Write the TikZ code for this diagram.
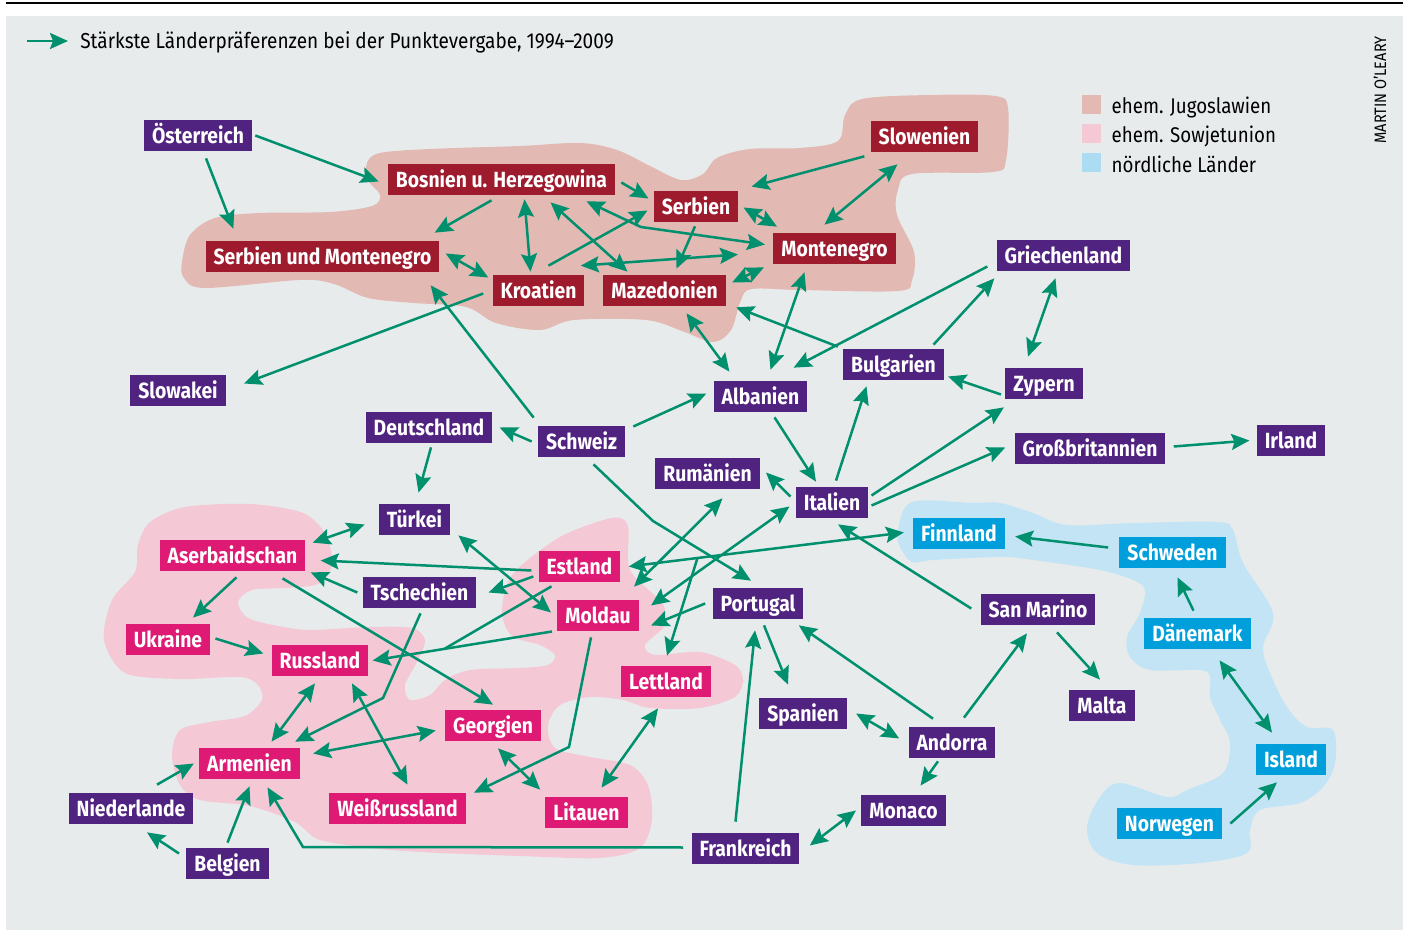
\documentclass[tikz,border=0pt]{standalone}
\usepackage{fontspec}
\setmainfont{Fira Sans}[FakeStretch=0.88]
\usetikzlibrary{arrows.meta, calc, positioning}

\definecolor{panelgray}{HTML}{E7EBEC}
\definecolor{arrowgreen}{HTML}{00906D}
\definecolor{landpurple}{HTML}{512380}
\definecolor{yugored}{HTML}{9E1B2E}
\definecolor{sovietpink}{HTML}{DE1A74}
\definecolor{nordicblue}{HTML}{009FDB}
\definecolor{yugoblob}{HTML}{E2B9B3}
\definecolor{sovietblob}{HTML}{F5C8D6}
\definecolor{nordicblob}{HTML}{C3E4F5}
\definecolor{nordicsquare}{HTML}{ABDCF2}

\newcommand{\landfont}{\fontsize{12.5}{14}\selectfont\bfseries}
\newcommand{\titlefont}{\fontsize{12.3}{14}\selectfont}
\newcommand{\legendfont}{\fontsize{12.1}{14}\selectfont}
\newcommand{\creditfont}{\fontsize{9.4}{11}\selectfont}

\begin{document}
\begin{tikzpicture}[
  x=0.2mm, y=-0.2mm,
  >={Stealth[length=3.6mm, width=3.2mm, inset=0.6mm]},
  country/.style={fill=landpurple, text=white, font=\landfont,
                  inner xsep=1.6mm, inner ysep=0pt, minimum height=6.2mm,
                  text height=11pt, text depth=2.4pt},
  yugo/.style={country, fill=yugored},
  soviet/.style={country, fill=sovietpink},
  nordic/.style={country, fill=nordicblue},
  link/.style={line width=0.5mm, draw=arrowgreen},
  arr/.style={link, ->},
  dbl/.style={link, <->},
  legbox/.style={minimum size=3.8mm, inner sep=0pt},
  legtext/.style={font=\legendfont, inner sep=0pt, anchor=west},
]
\useasboundingbox (0,0) rectangle (1403,937);

%% ---- panel and rule ----
\fill[panelgray] (6,16) rectangle (1403,930);
\draw[line width=0.3mm] (6,3) -- (1403,3);

%% ---- regions ----
\fill[yugoblob] plot[smooth cycle, tension=0.55] coordinates {
  (182,262) (190,235) (215,218) (260,213) (330,212) (372,206) (380,195)
  (368,180) (367,163) (380,153) (430,149) (520,146) (580,143) (617,150)
  (650,166) (681,180) (703,174) (717,158) (750,149) (800,148) (838,141)
  (845,115) (862,99) (930,95) (995,96) (1008,108) (1006,160) (993,172)
  (912,174) (898,190) (897,215) (914,252) (912,280) (898,291) (800,290)
  (752,289) (741,300) (731,330) (713,342) (682,331) (646,320) (574,320)
  (540,330) (496,323) (466,307) (414,303) (368,298) (334,284) (300,280)
  (205,288) (184,278)};

\fill[sovietblob] plot[smooth cycle, tension=0.5] coordinates {
  (138,545) (150,522) (185,507) (250,504) (303,513) (326,535) (332,565)
  (318,584) (285,588) (252,590) (238,602) (248,618) (278,626) (310,630)
  (370,627) (412,628) (425,640) (418,660) (405,685) (410,700) (430,695)
  (445,680) (470,670) (520,668) (548,665) (555,655) (540,645) (512,636)
  (502,612) (512,575) (560,537) (612,518) (628,526) (630,570) (662,603)
  (665,625) (645,645) (655,655) (700,652) (735,665) (743,680) (735,697)
  (700,708) (650,708) (623,700) (590,697) (560,705) (548,725) (555,748)
  (590,757) (630,765) (648,785) (652,820) (640,848) (600,858) (520,856)
  (440,853) (380,849) (320,840) (295,822) (250,806) (200,800) (180,785)
  (172,755) (180,730) (210,722) (245,716) (262,700) (258,685) (240,677)
  (180,679) (125,673) (104,640) (112,600) (135,572)};

\fill[nordicblob] plot[smooth cycle, tension=0.55] coordinates {
  (898,530) (912,502) (973,503) (1000,503) (1033,513) (1067,525)
  (1133,523) (1217,522) (1233,530) (1243,563) (1273,613) (1263,647)
  (1270,673) (1287,707) (1307,727) (1333,730) (1335,763) (1323,787)
  (1300,803) (1260,810) (1250,830) (1247,853) (1200,863) (1133,865)
  (1097,853) (1087,827) (1100,797) (1120,783) (1167,797) (1187,790)
  (1223,773) (1230,743) (1220,720) (1210,697) (1210,677) (1200,670)
  (1150,670) (1130,657) (1127,637) (1140,613) (1145,590) (1133,580)
  (1100,570) (1033,560) (1000,557) (933,560) (912,562) (900,547)};

%% ---- title, legend, credit ----
\node[legtext, font=\titlefont] (titel) at (80,42)
  {Stärkste Länderpräferenzen bei der Punktevergabe, 1994–2009};
\coordinate (titelpfeil) at (27,41);
\draw[arr] (titelpfeil) -- ($(titel.west)+(-12,-1)$);

\node[legbox, fill=yugoblob] (legYugo) at (1091.5,104.5) {};
\node[legbox, fill=sovietblob] (legSoviet) at (1091.5,133.5) {};
\node[legbox, fill=nordicsquare] (legNordic) at (1091.5,163) {};
\node[legtext, right=2mm of legYugo, yshift=-0.6mm] (txtYugo) {ehem. Jugoslawien};
\node[legtext, right=2mm of legSoviet, yshift=-0.6mm] (txtSoviet) {ehem. Sowjetunion};
\node[legtext, right=2mm of legNordic, yshift=-0.3mm] (txtNordic) {nördliche Länder};

\node[rotate=90, font=\creditfont, inner sep=0pt] (credit) at (1380,90) {MARTIN O'LEARY};

%% ---- countries ----
\node[country] (oest) at (198,135.5) {Österreich};
\node[yugo] (bosn) at (501.5,179.5) {Bosnien u. Herzegowina};
\node[yugo] (serb) at (696,206.5) {Serbien};
\node[yugo] (mont) at (834.5,248.5) {Montenegro};
\node[yugo] (kroa) at (538.5,290.5) {Kroatien};
\node[yugo] (maze) at (664.5,290.5) {Mazedonien};
\node[yugo] (slow) at (924.5,136.5) {Slowenien};
\node[yugo] (sumo) at (322.5,256.5) {Serbien und Montenegro};
\node[country] (alba) at (760.5,396.5) {Albanien};
\node[country] (bulg) at (893.5,364.5) {Bulgarien};
\node[country] (grie) at (1063.5,255.5) {Griechenland};
\node[country] (zype) at (1044,383.5) {Zypern};
\node[country] (slwk) at (178,390.5) {Slowakei};
\node[country] (deut) at (429,427.5) {Deutschland};
\node[country] (schz) at (581.5,441.5) {Schweiz};
\node[country] (tuer) at (414.5,519.5) {Türkei};
\node[soviet] (aser) at (232.5,555.5) {Aserbaidschan};
\node[soviet] (estl) at (579.5,566.5) {Estland};
\node[country] (tsch) at (419.5,592.5) {Tschechien};
\node[soviet] (mold) at (598,615.5) {Moldau};
\node[soviet] (ukra) at (168,639.5) {Ukraine};
\node[soviet] (russ) at (320,660.5) {Russland};
\node[soviet] (lett) at (666,681.5) {Lettland};
\node[soviet] (geor) at (493,725.5) {Georgien};
\node[soviet] (arme) at (249.5,763.5) {Armenien};
\node[country] (nied) at (131,808.5) {Niederlande};
\node[soviet] (weis) at (397.5,808.5) {Weißrussland};
\node[country] (belg) at (227.5,863.5) {Belgien};
\node[country] (port) at (758,603.5) {Portugal};
\node[country] (span) at (803,713.5) {Spanien};
\node[country] (ando) at (952,742.5) {Andorra};
\node[soviet] (lita) at (586.5,812.5) {Litauen};
\node[country] (mona) at (903.5,810.5) {Monaco};
\node[country] (fran) at (745.5,848.5) {Frankreich};
\node[country] (rumae) at (707.5,473.5) {Rumänien};
\node[country] (ital) at (832,502.5) {Italien};
\node[country] (gbri) at (1090,448.5) {Großbritannien};
\node[country] (irla) at (1291,440.5) {Irland};
\node[nordic] (finn) at (959,533.5) {Finnland};
\node[country] (sanm) at (1038,609.5) {San Marino};
\node[nordic] (schw) at (1172.5,552.5) {Schweden};
\node[nordic] (daen) at (1197.5,633.5) {Dänemark};
\node[country] (malt) at (1102,705.5) {Malta};
\node[nordic] (isla) at (1291,759.5) {Island};
\node[nordic] (norw) at (1169.5,823.5) {Norwegen};

%% ---- bends ----
\coordinate (bendBM) at (641,227);
\coordinate (bendSP) at (653,521);
\coordinate (bendTA) at (383,698);
\coordinate (bendMW) at (569,747);
\coordinate (bendFA) at (303,847);

%% ---- ex-Yugoslavia ----
\draw[arr] ($(oest.east)+(3,0)$) -- ($(bosn.west)+(-9,2)$);
\draw[arr] ($(oest.south)+(8,7)$) -- ($(sumo.north west)+(28,-12)$);
\draw[arr] ($(bosn.south)+(-10,5)$) -- ($(sumo.north east)+(-5,-8)$);
\draw[arr] ($(bosn.east)+(6,3)$) -- ($(serb.west)+(-5,-8)$);
\draw[dbl] ($(bosn.south)+(23,4)$) -- ($(kroa.north)+(-8,-3)$);
\draw[dbl] ($(sumo.east)+(6,-3)$) -- ($(kroa.west)+(-4,-13)$);
\draw[arr] ($(kroa.north)+(10,-9)$) -- ($(serb.west)+(-6,4)$);
\draw[dbl] ($(bosn.south)+(49,7)$) -- ($(maze.north)+(-37,-3)$);
\draw[dbl] ($(bosn.south)+(85,6)$) -- (bendBM) -- ($(mont.west)+(-8,-4)$);
\draw[dbl] ($(kroa.north east)+(-4,-9)$) -- ($(mont.west)+(-35,6)$);
\draw[dbl] ($(maze.east)+(6,-8)$) -- ($(mont.south west)+(-9,3)$);
\draw[dbl] ($(serb.east)+(5,1)$) -- ($(mont.north west)+(4,-6)$);
\draw[arr] ($(serb.south)+(-1,4)$) -- ($(maze.north)+(12,-6)$);
\draw[arr] ($(slow.south west)+(-6,4)$) -- ($(serb.north east)+(13,-4)$);
\draw[dbl] ($(slow.south)+(-27,12)$) -- ($(mont.north)+(-10,-8)$);
\draw[arr] ($(kroa.west)+(-9,3)$) -- ($(slwk.east)+(18,-7)$);
\draw[arr] ($(schz.north west)+(-4,-8)$) -- ($(sumo.south east)+(-9,13)$);
\draw[dbl] ($(maze.south)+(22,7)$) -- ($(alba.north west)+(16,-9)$);
\draw[dbl] ($(mont.south)+(-30,8)$) -- ($(alba.north)+(10,-11)$);
\draw[arr] ($(bulg.north west)+(-5,-2)$) -- ($(maze.south east)+(10,1)$);

%% ---- south and west ----
\draw[arr] ($(grie.west)+(-9,11)$) -- ($(alba.north east)+(-14,-13)$);
\draw[arr] ($(bulg.north)+(40,-4)$) -- ($(grie.south west)+(-2,7)$);
\draw[dbl] ($(grie.south)+(-8,7)$) -- ($(zype.north)+(-16,-11)$);
\draw[arr] ($(zype.west)+(-4,11)$) -- ($(bulg.east)+(4,12)$);
\draw[arr] ($(ital.east)+(3,-7)$) -- ($(zype.south west)+(-1,8)$);
\draw[arr] ($(ital.east)+(3,3)$) -- ($(gbri.west)+(-9,-1)$);
\draw[arr] ($(ital.north)+(4,-6)$) -- ($(bulg.south)+(-27,6)$);
\draw[arr] ($(alba.south)+(14,5)$) -- ($(ital.north)+(-16,-5)$);
\draw[arr] ($(ital.west)+(-5,-6)$) -- ($(rumae.east)+(6,-1)$);
\draw[arr] ($(schz.east)+(8,-15)$) -- ($(alba.west)+(-7,-3)$);
\draw[arr] ($(schz.south)+(12,7)$) -- (bendSP) -- ($(port.north)+(-7,-7)$);
\draw[arr] ($(schz.west)+(-6,0)$) -- ($(deut.east)+(7,0)$);
\draw[arr] ($(deut.south)+(2,4)$) -- ($(tuer.north)+(4,-11)$);
\draw[arr] ($(sanm.west)+(-9,-1)$) -- ($(ital.south)+(6,6)$);
\draw[arr] ($(gbri.east)+(8,-2)$) -- ($(irla.west)+(-7,0)$);
\draw[arr] ($(nied.north)+(26,-8)$) -- ($(arme.west)+(-5,0)$);
\draw[arr] ($(belg.west)+(-7,-10)$) -- ($(nied.south)+(16,8)$);
\draw[arr] ($(belg.north)+(0,-5)$) -- ($(arme.south)+(0,7)$);
\draw[arr] ($(fran.west)+(-8,-1)$) -- (bendFA) -- ($(arme.south)+(18,8)$);
\draw[arr] ($(fran.north)+(-10,-11)$) -- ($(port.south)+(-3,11)$);
\draw[arr] ($(port.south)+(6,6)$) -- ($(span.north)+(-15,-13)$);
\draw[arr] ($(ando.north)+(-19,-8)$) -- ($(port.south east)+(-5,6)$);
\draw[dbl] ($(span.east)+(9,0)$) -- ($(ando.west)+(-9,-4)$);
\draw[arr] ($(ando.south)+(-14,3)$) -- ($(mona.north)+(17,-9)$);
\draw[dbl] ($(fran.east)+(10,-3)$) -- ($(mona.west)+(-5,0)$);
\draw[arr] ($(ando.north)+(12,-9)$) -- ($(sanm.south)+(-11,8)$);
\draw[arr] ($(sanm.south)+(19,7)$) -- ($(malt.north)+(-2,-10)$);

%% ---- north ----
\draw[dbl] ($(finn.west)+(-9,-1)$) -- coordinate[pos=0.75] (forkFL) ($(estl.east)+(8,0)$);
\draw[arr] (forkFL) -- ($(lett.north)+(1,-10)$);
\draw[arr] ($(schw.west)+(-11,-5)$) -- ($(finn.east)+(10,3)$);
\draw[arr] ($(daen.north)+(-4,-7)$) -- ($(schw.south)+(5,9)$);
\draw[dbl] ($(daen.south)+(22,11)$) -- ($(isla.north)+(-19,-11)$);
\draw[arr] ($(norw.east)+(8,0)$) -- ($(isla.south)+(-14,7)$);

%% ---- ex-Soviet Union ----
\draw[dbl] ($(rumae.south)+(15,9)$) -- ($(mold.north east)+(-5,-13)$);
\draw[dbl] ($(ital.west)+(-6,4)$) -- ($(mold.east)+(12,-10)$);
\draw[arr] ($(port.west)+(-7,0)$) -- ($(mold.east)+(12,10)$);
\draw[arr] ($(estl.west)+(-5,10)$) -- ($(tsch.east)+(12,0)$);
\draw[arr] ($(estl.west)+(-7,4)$) -- ($(aser.east)+(15,5)$);
\draw[arr] ($(tsch.west)+(-5,0)$) -- ($(aser.south east)+(5,1)$);
\draw[dbl] ($(aser.north east)+(7,3)$) -- ($(tuer.west)+(-14,5)$);
\draw[dbl] ($(tuer.south east)+(8,0)$) -- ($(mold.west)+(-6,-3)$);
\draw[arr] ($(mold.west)+(-5,16)$) -- coordinate[pos=0.6] (joinER) ($(russ.east)+(4,0)$);
\draw[link] ($(estl.south)+(-28,4)$) -- (joinER);
\draw[arr] ($(tsch.south)+(1,5)$) -- (bendTA) -- ($(arme.north east)+(-5,-6)$);
\draw[arr] ($(aser.south)+(4,6)$) -- ($(ukra.north)+(25,-6)$);
\draw[arr] ($(aser.south)+(50,7)$) -- ($(geor.north)+(0,-5)$);
\draw[arr] ($(ukra.east)+(5,-1)$) -- ($(russ.west)+(-8,-7)$);
\draw[dbl] ($(russ.south)+(-5,7)$) -- ($(arme.north)+(22,-6)$);
\draw[dbl] ($(russ.south)+(32,7)$) -- ($(weis.north)+(10,-8)$);
\draw[dbl] ($(arme.east)+(13,-10)$) -- ($(geor.west)+(-9,5)$);
\draw[dbl] ($(geor.south)+(5,7)$) -- ($(lita.north west)+(-5,-7)$);
\draw[arr] ($(mold.south)+(-7,6)$) -- (bendMW) -- ($(weis.north east)+(8,0)$);
\draw[dbl] ($(lett.south)+(-8,11)$) -- ($(lita.north)+(15,-9)$);

\end{tikzpicture}
\end{document}
